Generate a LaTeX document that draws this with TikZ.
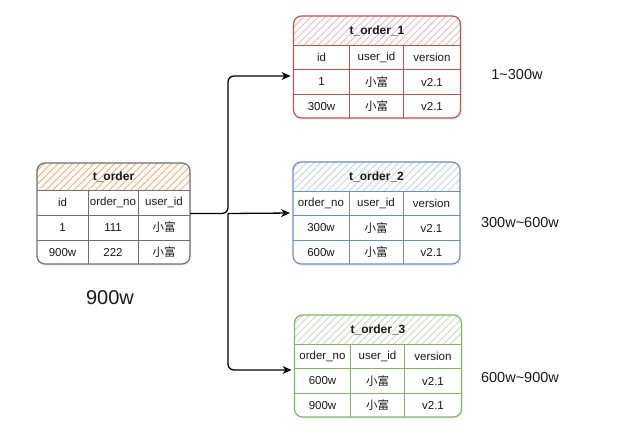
\documentclass[tikz,border=0pt]{standalone}
\usepackage{fontspec}
\setmainfont{Liberation Sans}
\newfontfamily\cjk{Noto Sans CJK SC}
\usepackage{tikz}
\usetikzlibrary{arrows.meta,positioning,calc,patterns.meta,shadows}
\definecolor{srcline}{RGB}{110,110,110}
\definecolor{srchatch}{RGB}{245,172,112}
\definecolor{redline}{RGB}{184,84,80}
\definecolor{redhatch}{RGB}{236,186,186}
\definecolor{blueline}{RGB}{108,142,191}
\definecolor{bluehatch}{RGB}{196,212,236}
\definecolor{greenline}{RGB}{130,179,102}
\definecolor{greenhatch}{RGB}{198,222,188}
\newcommand{\xiaofu}{{\cjk 小富}}

\begin{document}
\begin{tikzpicture}[x=1pt,y=-1pt,
    every node/.style={font=\fontsize{11.5}{13}\selectfont,text=black!90},
    tbl/.style={rectangle,rounded corners=8pt,line width=1.2pt,outer sep=0pt,fill=white,
                drop shadow={opacity=0.12,shadow xshift=1pt,shadow yshift=-2pt}},
    hatch/.style 2 args={path picture={
        \fill[pattern={Lines[angle=45,distance=5pt,line width=0.9pt]},pattern color=#1]
          (path picture bounding box.north west) rectangle
          ([yshift=-#2]path picture bounding box.north east);}},
    grid/.style={line width=0.9pt},
    ttl/.style={font=\fontsize{12}{14}\selectfont\bfseries},
    rng/.style={font=\fontsize{14.5}{16}\selectfont},
    arr/.style={-{Stealth[length=9pt,width=8pt,open]},line width=1.3pt,
                rounded corners=6pt,shorten >=3pt}]
  \useasboundingbox (0,0) rectangle (633,441);

  %% Source table t_order
  \node[tbl,draw=srcline,minimum width=153,minimum height=101,hatch={srchatch}{27}]
        (src) at (113.5,213.5) {};
  \foreach \d in {27,52,77}
    \draw[grid,srcline] ([yshift=-\d]src.north west) -- ([yshift=-\d]src.north east);
  \foreach \d in {51,101}
    \draw[grid,srcline] ([xshift=\d,yshift=-27]src.north west) -- ([xshift=\d]src.south west);
  \node[ttl] (src-t) at ([yshift=-13.5]src.north) {t\_order};
  \foreach \a/\b/\c [count=\r] in {id/order\_no/user\_id, 1/111/\xiaofu, 900w/222/\xiaofu}{
    \node (src-\r-1) at ([xshift=25.5,yshift={-14.5-25*\r}]src.north west) {\a};
    \node (src-\r-2) at ([xshift=76,yshift={-14.5-25*\r}]src.north west) {\b};
    \node (src-\r-3) at ([xshift=127,yshift={-14.5-25*\r}]src.north west) {\c};
  }
  \node[font=\fontsize{20}{22}\selectfont] (total) at (110,298) {900w};

  %% Shard tables
  \node[tbl,draw=redline,minimum width=167,minimum height=102,hatch={redhatch}{29}]
        (t1) at (377,67) {};
  \node[tbl,draw=blueline,minimum width=167,minimum height=102,hatch={bluehatch}{29}]
        (t2) at (376.5,213) {};
  \node[tbl,draw=greenline,minimum width=167,minimum height=102,hatch={greenhatch}{29}]
        (t3) at (378,366) {};
  \foreach \t/\lc/\n in {t1/redline/1, t2/blueline/2, t3/greenline/3}{
    \foreach \d in {29,53.5,78}
      \draw[grid,\lc] ([yshift=-\d]\t.north west) -- ([yshift=-\d]\t.north east);
    \foreach \d in {56,110}
      \draw[grid,\lc] ([xshift=\d,yshift=-29]\t.north west) -- ([xshift=\d]\t.south west);
    \node[ttl] (\t-t) at ([yshift=-14.5]\t.north) {t\_order\_\n};
  }
  \foreach \a/\b/\c [count=\r] in {id/user\_id/version, 1/\xiaofu/v2.1, 300w/\xiaofu/v2.1}{
    \node (t1-\r-1) at ([xshift=28,yshift={-17-24.5*\r}]t1.north west) {\a};
    \node (t1-\r-2) at ([xshift=83,yshift={-17-24.5*\r}]t1.north west) {\b};
    \node (t1-\r-3) at ([xshift=138.5,yshift={-17-24.5*\r}]t1.north west) {\c};
  }
  \foreach \a/\b/\c [count=\r] in {order\_no/user\_id/version, 300w/\xiaofu/v2.1, 600w/\xiaofu/v2.1}{
    \node (t2-\r-1) at ([xshift=28,yshift={-17-24.5*\r}]t2.north west) {\a};
    \node (t2-\r-2) at ([xshift=83,yshift={-17-24.5*\r}]t2.north west) {\b};
    \node (t2-\r-3) at ([xshift=138.5,yshift={-17-24.5*\r}]t2.north west) {\c};
  }
  \foreach \a/\b/\c [count=\r] in {order\_no/user\_id/version, 600w/\xiaofu/v2.1, 900w/\xiaofu/v2.1}{
    \node (t3-\r-1) at ([xshift=28,yshift={-17-24.5*\r}]t3.north west) {\a};
    \node (t3-\r-2) at ([xshift=83,yshift={-17-24.5*\r}]t3.north west) {\b};
    \node (t3-\r-3) at ([xshift=138.5,yshift={-17-24.5*\r}]t3.north west) {\c};
  }

  %% Ranges
  \node[rng] (rng1) at (517,75) {1\textasciitilde 300w};
  \node[rng] (rng2) at (520,223) {300w\textasciitilde 600w};
  \node[rng] (rng3) at (520,378) {600w\textasciitilde 900w};

  %% Split arrows
  \coordinate (jn) at (228,213.5);
  \coordinate (in1) at ([yshift=-9]t1.west);
  \coordinate (in3) at ([yshift=-4]t3.west);
  \draw[arr] (src.east) -- (jn) |- (in1);
  \draw[arr] (jn) |- (in3);
  \draw[arr] (jn) -- (t2.west);
\end{tikzpicture}
\end{document}
